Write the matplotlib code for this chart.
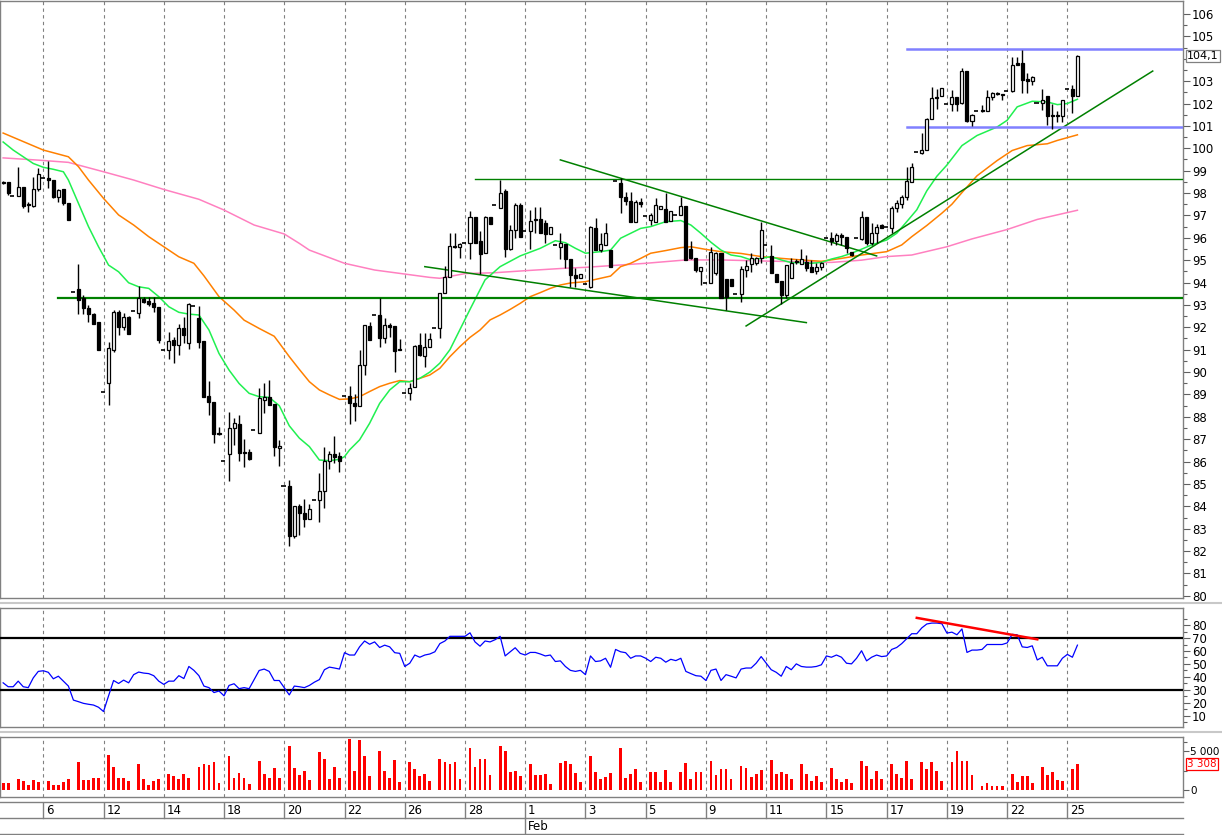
import matplotlib
matplotlib.use('Agg')
import matplotlib.pyplot as plt
import numpy as np
from matplotlib.transforms import blended_transform_factory
from matplotlib.lines import Line2D

# ---------------- data ----------------
opens = [98.5,98.51,97.87,97.88,98.25,97.52,97.43,98.16,98.65,98.68,98.58,97.83,98.18,97.57,
         93.59,93.7,93.29,92.85,92.58,92.22,89.09,89.49,91.0,92.7,92.0,92.47,92.73,92.65,93.26,93.19,
         93.1,92.92,90.98,90.98,91.43,91.2,91.95,91.28,92.95,92.4,91.4,88.93,88.66,87.28,86.03,86.32,
         87.49,87.68,86.43,86.41,87.41,87.29,88.77,88.88,88.58,86.59,84.91,84.91,82.69,84.02,83.72,
         83.42,84.27,84.27,84.69,86.04,86.32,86.25,88.95,88.95,88.63,88.5,90.32,92.06,92.55,92.55,
         91.54,92.1,92.06,90.99,89.05,89.08,89.32,91.21,90.72,91.13,91.96,91.96,93.52,94.26,95.65,
         95.57,95.75,95.75,96.94,95.87,95.34,96.94,97.46,97.35,98.11,95.5,96.35,97.47,96.3,96.32,
         96.84,96.84,96.65,96.15,95.68,95.6,95.71,95.04,94.34,94.19,93.92,93.82,96.42,95.45,95.68,
         95.45,98.54,98.43,97.84,97.66,96.72,97.59,96.97,96.79,96.72,97.29,97.27,96.77,97.02,97.02,
         97.42,95.48,95.08,94.53,93.99,93.99,94.41,95.3,94.14,94.14,93.49,93.49,94.56,94.83,94.86,
         95.08,95.68,95.19,94.38,94.08,93.44,94.19,94.95,94.83,94.93,94.71,94.53,94.68,95.98,95.98,
         95.87,96.12,96.05,95.38,95.98,95.93,96.92,95.75,96.23,96.57,96.47,96.42,97.32,97.51,97.84,
         98.48,99.85,99.8,99.93,101.32,102.3,102.34,102.0,101.99,102.3,102.02,103.45,101.2,101.65,
         101.72,101.65,102.3,102.46,102.37,102.57,102.57,103.8,103.8,103.09,103.0,102.04,102.02,
         102.34,101.48,101.48,101.44,102.67,102.67,102.34]
highs = [98.55,98.51,97.87,99.18,98.25,97.6,98.73,99.1,98.65,99.44,98.58,98.2,98.18,97.57,
         93.59,94.83,93.44,93.0,92.65,92.22,89.09,91.36,92.77,92.77,92.62,92.5,92.73,93.84,93.34,93.37,
         93.37,92.92,90.98,91.8,91.58,92.17,92.47,93.1,92.95,92.95,91.4,89.6,88.66,87.56,86.03,88.23,
         87.96,88.08,87.0,86.56,87.41,89.27,89.49,89.64,88.58,86.97,84.91,85.18,84.02,84.1,84.33,
         84.1,84.27,85.48,86.67,86.49,87.14,86.44,88.95,89.38,89.02,90.99,92.09,92.25,92.55,93.3,
         92.4,92.18,92.06,91.46,89.05,89.5,91.21,91.73,91.73,91.73,91.96,93.52,94.74,96.23,96.2,
         95.78,95.75,97.2,96.94,96.32,96.99,96.94,97.46,98.58,98.17,96.57,97.57,97.57,96.3,97.24,
         97.39,97.39,96.8,96.47,95.68,96.23,95.71,95.04,94.63,94.37,93.92,96.53,96.87,96.2,96.68,
         95.45,98.54,98.66,98.06,98.06,97.69,97.76,96.97,97.09,97.76,97.42,97.99,97.21,97.02,97.84,
         97.42,95.87,95.08,94.68,93.99,95.6,95.38,95.3,94.14,94.14,93.49,94.74,95.01,95.3,95.15,
         96.72,95.68,95.68,94.38,94.08,94.78,95.08,95.03,95.48,95.23,95.0,94.86,94.93,95.98,96.27,
         96.2,96.2,96.05,95.38,95.98,97.21,96.92,96.65,96.62,96.62,96.47,97.42,97.69,97.91,99.18,
         99.33,99.85,100.7,101.35,102.75,102.67,102.7,102.0,102.6,102.3,103.57,103.45,101.55,101.65,
         101.92,102.6,102.52,102.52,102.37,102.57,104.1,104.1,104.4,103.35,103.24,102.04,102.67,
         102.34,102.0,101.65,102.15,102.67,102.82,104.17]
lows = [98.4,97.91,97.87,97.88,97.31,97.17,97.39,98.09,98.65,98.21,97.8,97.58,97.46,96.8,
        93.59,92.59,92.59,92.25,92.17,90.98,89.09,88.53,90.9,91.65,91.88,91.68,92.73,92.4,93.07,92.95,
        92.67,91.28,90.98,90.6,90.39,90.76,91.28,91.03,92.95,91.06,88.9,88.08,86.81,87.2,86.03,85.15,
        86.74,86.04,85.74,86.07,87.41,87.26,88.15,88.54,86.26,85.82,84.91,82.23,82.6,82.72,83.09,
        83.42,84.27,83.32,83.91,85.65,85.95,85.55,88.95,87.68,87.83,88.5,89.87,91.43,92.55,91.14,
        91.31,91.55,90.02,90.97,89.05,88.75,89.32,90.72,90.21,91.1,91.96,91.51,93.52,94.26,95.53,
        95.08,95.75,95.04,95.75,94.38,95.34,96.62,97.46,97.32,95.13,95.45,95.98,96.02,96.3,95.5,
        96.2,96.2,95.75,96.15,95.68,95.04,94.63,93.82,93.82,94.19,93.92,93.74,95.45,95.38,95.68,
        94.71,98.54,97.09,97.47,96.72,96.72,97.39,96.97,96.57,96.72,97.27,96.72,96.77,97.02,97.02,
        95.01,95.04,94.49,93.89,93.99,93.97,94.34,93.29,92.77,93.85,93.49,93.14,94.26,94.49,94.8,
        94.86,95.68,94.44,94.04,93.03,93.3,94.19,94.83,94.83,94.53,94.49,94.38,94.56,95.98,95.68,
        95.68,95.68,95.34,95.2,95.98,95.9,95.68,95.68,95.78,96.42,96.47,96.2,97.17,97.32,97.69,
        98.48,99.85,99.75,99.93,101.32,101.77,102.34,102.0,101.65,101.65,101.99,101.17,100.99,101.65,
        101.6,101.65,102.15,102.38,102.15,102.57,102.52,103.72,102.45,102.45,102.82,102.04,101.7,
        101.02,100.87,101.17,101.17,102.67,101.59,102.34]
closes = [98.45,97.98,97.87,98.25,97.43,97.48,98.16,98.85,98.65,98.6,97.83,98.13,97.54,96.8,
          93.59,93.22,92.85,92.58,92.17,90.98,89.09,91.06,92.7,92.03,92.44,91.68,92.73,93.29,93.14,93.04,
          92.89,91.43,90.98,91.4,91.2,91.95,91.65,93.04,92.95,91.36,88.9,88.65,87.22,87.24,86.03,87.49,
          87.71,86.4,86.39,86.12,87.41,88.82,88.88,88.54,86.64,86.71,84.91,82.69,84.02,83.69,83.42,
          83.87,84.27,84.69,86.04,86.32,86.19,86.04,88.95,88.6,88.5,90.32,92.09,91.43,92.55,91.54,
          92.1,92.03,90.95,90.97,89.05,89.27,91.17,90.76,91.13,91.46,91.96,93.52,94.26,95.65,95.57,
          95.71,95.75,96.94,95.75,95.28,96.94,96.62,97.46,98.02,95.48,96.35,97.47,96.02,96.3,96.77,
          96.8,96.2,96.17,96.47,95.68,95.75,95.04,94.34,94.22,94.37,93.92,96.47,95.45,95.71,96.2,
          94.71,98.54,97.84,97.66,96.72,97.59,97.5,96.97,97.02,97.47,97.42,96.72,97.21,97.02,97.42,
          95.01,95.08,94.56,94.68,93.99,95.38,95.34,93.29,93.34,93.85,93.49,94.59,94.74,95.08,95.08,
          96.35,95.68,94.44,94.04,93.44,94.78,94.86,94.91,95.04,94.63,94.49,94.71,94.86,95.98,95.87,
          96.12,96.05,95.53,95.23,95.98,96.92,95.78,96.2,96.5,96.42,96.47,97.32,97.54,97.84,98.54,
          99.15,99.85,99.92,101.32,102.25,102.25,102.7,102.0,102.3,101.99,103.45,101.2,101.5,101.65,
          101.68,102.3,102.47,102.44,102.37,102.57,103.72,103.72,103.05,103.02,103.2,102.04,102.15,
          101.44,101.46,101.46,102.15,102.67,102.34,104.12]

volumes = [870,870,50,1470,1100,690,1240,1010,50,1100,690,690,1010,1380,
           50,3620,1240,1240,1600,1600,50,4450,2940,1600,1600,1100,50,3300,1380,690,1100,1470,
           50,2060,1830,1380,2060,1600,50,2980,3300,3160,3620,920,50,4360,1600,2200,1600,780,
           50,3760,2060,1600,2840,1600,50,5600,2840,1930,2390,1240,50,4820,3990,1470,2980,1600,
           50,6510,2480,6380,4310,1790,50,5000,2390,1600,3850,1010,50,3530,2710,1790,2060,1100,
           50,3990,3620,3300,3620,1380,50,5370,2940,3990,3990,1930,50,5690,5000,2250,2480,1790,
           50,3300,1930,1930,2060,780,50,3440,3760,3300,2160,1010,50,4360,2250,1380,1700,2160,
           50,5370,1600,2060,2710,1010,50,2250,2250,1010,2610,1010,50,2290,3440,1380,2250,2250,
           50,3760,1930,2750,2750,1470,50,3070,2840,1700,2020,2610,50,3850,2060,2290,2060,1470,
           50,3300,2060,1100,1830,1010,50,2840,1380,1010,1470,870,50,3760,3070,1380,2480,1470,
           50,3300,2060,1600,3760,1470,50,3620,2750,3620,2390,1100,50,3620,5000,3760,3760,1930,
           50,550,870,460,460,460,50,2060,1010,1790,1790,870,50,2980,1930,2250,1240,1150,
           50,2750,3308]

rsi = [35.5,32.5,32.5,36.8,32.5,31.8,39.3,44.3,44.8,43.6,38.6,40.6,36.8,33.0,22.2,21.0,19.7,19.0,
       18.4,16.7,13.4,25.5,37.3,35.0,37.6,35.5,41.8,43.8,43.0,42.6,41.0,36.8,34.3,36.8,36.8,41.0,
       38.8,48.1,45.1,41.0,33.0,31.8,28.0,29.2,25.5,33.5,34.8,31.0,31.8,31.0,38.0,45.0,46.1,44.3,
       37.3,37.3,31.8,26.2,33.0,32.5,31.8,33.5,36.0,38.0,45.6,47.6,46.9,46.1,58.7,56.9,56.9,63.2,
       67.7,65.2,67.0,62.7,64.5,63.2,58.7,58.2,48.1,50.6,56.9,55.2,56.9,57.7,59.4,65.7,67.7,71.3,
       71.3,71.3,71.3,74.0,67.0,63.7,67.7,67.0,68.7,71.3,56.2,59.4,62.5,58.2,56.9,58.9,58.9,57.7,
       56.2,56.9,51.9,52.4,48.1,45.1,44.3,45.1,41.8,56.2,51.9,52.4,54.4,47.5,61.2,59.4,58.7,54.4,
       56.2,56.2,54.4,51.9,55.2,54.4,51.4,53.6,52.6,54.4,44.3,42.6,41.0,40.6,37.3,45.1,46.1,37.3,
       41.8,40.6,39.3,46.1,46.9,46.9,50.6,55.7,50.6,45.6,43.6,40.6,48.1,45.6,50.1,48.1,47.6,47.6,
       48.1,49.4,56.2,55.2,56.9,55.2,50.6,50.1,54.4,60.2,52.4,55.2,56.9,55.7,56.2,61.2,62.7,65.7,
       69.5,73.3,73.3,77.8,80.8,81.5,81.5,81.0,73.8,74.5,72.5,77.0,58.9,60.7,60.7,61.2,65.0,65.0,
       65.0,65.0,66.2,72.8,72.5,63.2,62.7,64.0,53.1,55.2,48.6,48.6,48.6,54.4,57.4,55.2,64.5]

ma_fast_idx = [0,2,4,6,8,10,12,13,15,17,19,21,23,25,27,29,31,33,35,37,39,41,43,45,47,49,51,53,55,57,
               59,61,63,65,67,68,69,71,73,75,77,79,81,83,85,87,89,91,93,96,99,103,107,110,112,114,116,
               119,121,123,125,127,129,132,135,137,139,141,143,145,147,149,151,153,155,157,159,161,163,
               165,167,169,171,173,176,178,180,182,184,186,188,191,194,198,200,202,205,208,210,212,214]
ma_fast = [100.28,99.92,99.62,99.32,99.15,99.06,98.95,98.58,97.54,96.5,95.6,94.78,94.48,93.99,93.81,
           93.74,93.37,92.92,92.67,92.59,92.55,91.88,90.83,90.09,89.49,89.05,88.9,88.87,88.5,87.6,87.05,
           86.67,86.07,86.04,86.1,86.22,86.52,86.97,87.71,88.6,89.2,89.57,89.57,89.72,90.0,90.4,91.0,
           91.9,92.8,94.12,94.71,95.19,95.53,95.87,95.78,95.53,95.31,95.38,95.45,95.98,96.2,96.42,96.5,
           96.72,96.77,96.57,96.2,95.8,95.45,95.23,95.16,95.01,95.08,95.16,95.01,94.89,94.89,94.86,94.9,
           95.05,95.16,95.31,95.49,95.68,95.9,96.2,96.72,97.25,98.1,98.75,99.25,100.12,100.57,100.95,
           101.25,101.85,102.1,102.07,101.95,102.0,102.19]

ma_mid_idx = [0,4,8,13,15,17,20,23,26,29,32,35,38,40,43,46,48,51,54,55,57,59,61,63,65,67,69,71,73,75,
              77,79,81,83,85,87,89,91,93,95,97,99,101,103,105,107,109,111,113,116,119,121,123,125,127,
              129,132,135,137,140,143,147,151,155,159,163,167,171,176,179,181,184,187,189,191,194,198,
              201,204,208,210,214]
ma_mid = [100.68,100.3,99.92,99.62,99.18,98.58,97.76,97.02,96.57,96.05,95.6,95.15,94.86,94.3,93.37,
          92.77,92.32,91.95,91.6,91.3,90.69,90.12,89.57,89.2,88.98,88.78,88.8,88.9,89.13,89.35,89.5,
          89.62,89.57,89.72,89.87,90.17,90.69,91.14,91.55,91.88,92.33,92.55,92.8,93.07,93.37,93.55,
          93.74,93.89,93.98,94.04,94.19,94.29,94.71,94.86,95.08,95.31,95.43,95.56,95.6,95.48,95.38,
          95.3,95.16,95.08,95.01,94.95,95.08,95.23,95.38,95.68,96.05,96.55,97.1,97.5,98.02,98.77,
          99.45,99.9,100.12,100.2,100.35,100.6]

ma_slow_idx = [0,7,13,20,26,32,39,44,50,56,59,61,68,74,80,85,87,92,98,104,112,116,128,136,143,152,
               165,171,176,181,188,193,200,206,214]
ma_slow = [99.57,99.47,99.37,98.95,98.58,98.16,97.72,97.24,96.57,96.17,95.75,95.45,94.86,94.56,94.38,
           94.23,94.19,94.4,94.44,94.53,94.64,94.68,94.86,95.01,95.01,94.96,94.9,95.0,95.16,95.23,95.6,
           95.95,96.37,96.82,97.23]

date_labels = ['6', '12', '14', '18', '20', '22', '26', '28', '1', '3', '5', '9', '11', '15', '17',
               '19', '22', '25']
date_idx = [8 + 12 * k for k in range(len(date_labels))]
month_label = 'Feb'
month_idx = 104

support_level = 93.31
resist_level = 98.63
range_top, range_bottom = 104.42, 100.97
chan_upper = ([111, 174], [99.48, 95.19])
chan_lower = ([84, 160], [94.71, 92.21])
uptrend = ([148, 229], [92.06, 103.45])
rsi_div = ([182, 206], [85.5, 69.0])
last_price_label = '104,1'
vol_tick_labels = ['0', '5 000']
last_vol_label = '3 308'

# ---------------- layout ----------------
W, H = 1222, 835
fig = plt.figure(figsize=(W / 100, H / 100), dpi=100)
fig.patch.set_facecolor('white')


def axes_px(x0, y0, x1, y1):
    return fig.add_axes([x0 / W, 1 - y1 / H, (x1 - x0) / W, (y1 - y0) / H])


PX0, PXS = 3.14, 5.02
XL = ((0 - PX0) / PXS, (1183 - PX0) / PXS)
n = len(closes)
xs = np.arange(n)
GRID = dict(color='#808080', lw=0.8, ls=(0, (3, 3)), zorder=1)
FS = 8.5


def style(ax, fs=FS):
    ax.set_xlim(*XL)
    ax.set_facecolor('white')
    for s in ax.spines.values():
        s.set_color('#808080')
        s.set_linewidth(1.0)
    ax.set_xticks([])
    ax.yaxis.tick_right()
    ax.tick_params(axis='y', which='major', length=5, width=0.8, color='#606060',
                   labelsize=fs, pad=1.5)
    ax.tick_params(axis='y', which='minor', length=3, width=0.8, color='#606060')
    for g in date_idx:
        ax.axvline(g, **GRID)


# main price panel
ax = axes_px(0, 1, 1183, 598)
style(ax)
ax.set_ylim(79.905, 106.58)
pticks = np.arange(80, 107, 1)
ax.set_yticks(pticks)
ax.set_yticklabels(['' if t == 104 else str(t) for t in pticks])
ax.set_yticks(np.arange(80.5, 106.5, 1), minor=True)

ax.plot(ma_slow_idx, ma_slow, color='#ff80c0', lw=1.1, zorder=2)
ax.plot(ma_mid_idx, ma_mid, color='#ff8000', lw=1.1, zorder=2)
ax.plot(ma_fast_idx, ma_fast, color='#20f050', lw=1.1, zorder=2)

ax.plot([11, XL[1]], [support_level] * 2, color='#008000', lw=1.6, zorder=3)
ax.plot([94, XL[1]], [resist_level] * 2, color='#008000', lw=1.0, zorder=3)
ax.plot(*chan_upper, color='#008000', lw=1.1, zorder=3)
ax.plot(*chan_lower, color='#008000', lw=1.1, zorder=3)
ax.plot(*uptrend, color='#008000', lw=1.1, zorder=3)
ax.plot([180, XL[1]], [range_top] * 2, color='#8080ff', lw=1.8, zorder=3)
ax.plot([180, XL[1]], [range_bottom] * 2, color='#8080ff', lw=1.8, zorder=3)

o = np.array(opens); h = np.array(highs); l = np.array(lows); c = np.array(closes)
dash = (h - l) < 0.005
nd = ~dash
ax.vlines(xs[nd], l[nd], h[nd], color='black', lw=1.0, zorder=4)
bot = np.minimum(o, c)
ht = np.maximum(np.abs(c - o), 0.045)
up = (c >= o) & nd
dn = (c < o) & nd
ax.bar(xs[up], ht[up], bottom=bot[up], width=0.6, facecolor='white', edgecolor='black',
       linewidth=0.9, zorder=5)
ax.bar(xs[dn], ht[dn], bottom=bot[dn], width=0.6, facecolor='black', edgecolor='black',
       linewidth=0.9, zorder=5)
ax.hlines(c[dash], xs[dash] - 0.55, xs[dash] + 0.25, color='black', lw=1.2, zorder=5)

tr = blended_transform_factory(ax.transAxes, ax.transData)
ax.text(1.0035, closes[-1], last_price_label, transform=tr, fontsize=8, va='center', ha='left',
        bbox=dict(boxstyle='square,pad=0.12', fc='white', ec='#808080', lw=0.9), clip_on=False,
        zorder=10)

# RSI panel
ar = axes_px(0, 608, 1183, 727)
style(ar)
ar.set_ylim(1.5, 93.1)
ar.set_yticks(np.arange(10, 90, 10))
ar.set_yticks(np.arange(5, 90, 10), minor=True)
ar.axhline(70, color='black', lw=1.6, zorder=3)
ar.axhline(30, color='black', lw=1.6, zorder=3)
ar.plot(xs, rsi, color='#0000ff', lw=0.9, zorder=4)
ar.plot(*rsi_div, color='#ff0000', lw=1.8, zorder=5)

# volume panel
av = axes_px(0, 737, 1183, 797)
style(av, fs=7.5)
av.tick_params(axis='y', which='major', length=4, pad=1)
av.set_ylim(-897, 6795)
av.set_yticks([0, 5000])
av.set_yticklabels(vol_tick_labels)
av.set_yticks([2500, 6200], minor=True)
av.bar(xs, volumes, width=0.55, color='#ff0000', zorder=4)
trv = blended_transform_factory(av.transAxes, av.transData)
av.text(1.0035, volumes[-1], last_vol_label, transform=trv, fontsize=7.5, va='center', ha='left',
        color='red', bbox=dict(boxstyle='square,pad=0.12', fc='white', ec='red', lw=0.9),
        clip_on=False, zorder=10)

# date axis
ad = axes_px(0, 802, 1183, 834)
ad.set_xlim(*XL)
ad.set_ylim(0, 1)
ad.axis('off')
LC = '#808080'
ad.plot(XL, [1, 1], color=LC, lw=1.0, clip_on=False)
ad.plot(XL, [0.5, 0.5], color=LC, lw=1.0, clip_on=False)
ad.plot(XL, [0, 0], color=LC, lw=1.0, clip_on=False)
for g, lab in zip(date_idx, date_labels):
    ad.plot([g, g], [0.5, 1], color=LC, lw=1.0)
    ad.text(g + 0.55, 0.74, lab, fontsize=FS, va='center', ha='left')
ad.plot([month_idx, month_idx], [0, 0.5], color=LC, lw=1.0)
ad.text(month_idx + 0.55, 0.24, month_label, fontsize=FS, va='center', ha='left')

# separators between panels
for yy in (603, 732):
    fig.add_artist(Line2D([0, 1], [1 - yy / H] * 2, color='#c8c8c8', lw=1.5,
                          transform=fig.transFigure))

fig.savefig('out.png', dpi=100, facecolor='white')
